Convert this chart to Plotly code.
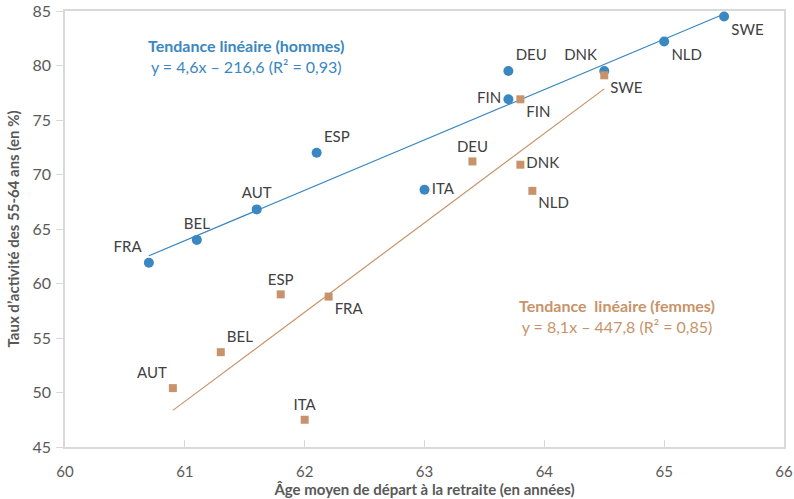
import numpy as np
import plotly.graph_objects as go

countries_men = ["FRA", "BEL", "AUT", "ESP", "ITA", "FIN", "DEU", "DNK", "NLD", "SWE"]
age_men = [60.7, 61.1, 61.6, 62.1, 63.0, 63.7, 63.7, 64.5, 65.0, 65.5]
rate_men = [61.9, 64.0, 66.8, 72.0, 68.6, 76.9, 79.5, 79.5, 82.2, 84.5]

countries_women = ["AUT", "BEL", "ESP", "ITA", "FRA", "DEU", "FIN", "DNK", "NLD", "SWE"]
age_women = [60.9, 61.3, 61.8, 62.0, 62.2, 63.4, 63.8, 63.8, 63.9, 64.5]
rate_women = [50.4, 53.7, 59.0, 47.5, 58.8, 71.2, 76.9, 70.9, 68.5, 79.1]

pos_men = ["top left", "top center", "top center", "top right", "middle right",
           "middle left", "top right", "top left", "bottom right", "bottom right"]
pos_women = ["top left", "top right", "top center", "top center", "bottom right",
             "top center", "bottom right", "middle right", "bottom right", "bottom right"]

BLUE = "#3A87C1"
TAN = "#C8936A"
FONT = "Lato"

def fit_line(x, y):
    a, b = np.polyfit(x, y, 1)
    xs = np.array([min(x), max(x)])
    return xs, a * xs + b

fig = go.Figure()
xm, ym = fit_line(age_men, rate_men)
xw, yw = fit_line(age_women, rate_women)
fig.add_trace(go.Scatter(x=xm, y=ym, mode="lines", line=dict(color=BLUE, width=1.2),
                         hoverinfo="skip", showlegend=False))
fig.add_trace(go.Scatter(x=xw, y=yw, mode="lines", line=dict(color=TAN, width=1.2),
                         hoverinfo="skip", showlegend=False))
fig.add_trace(go.Scatter(x=age_men, y=rate_men, mode="markers+text", text=countries_men,
                         textposition=pos_men,
                         textfont=dict(family=FONT, size=15, color="#404040"),
                         marker=dict(symbol="circle", size=10, color=BLUE),
                         showlegend=False, name="Hommes"))
fig.add_trace(go.Scatter(x=age_women, y=rate_women, mode="markers+text", text=countries_women,
                         textposition=pos_women,
                         textfont=dict(family=FONT, size=15, color="#404040"),
                         marker=dict(symbol="square", size=8, color=TAN),
                         showlegend=False, name="Femmes"))

fig.add_annotation(x=0.252, y=0.897, xref="paper", yref="paper", showarrow=False,
                   xanchor="center", yanchor="middle",
                   text="<b>Tendance linéaire (hommes)</b><br>y = 4,6x – 216,6 (R² = 0,93)",
                   font=dict(family=FONT, size=16, color=BLUE), align="center")
fig.add_annotation(x=0.768, y=0.30, xref="paper", yref="paper", showarrow=False,
                   xanchor="center", yanchor="middle",
                   text="<b>Tendance  linéaire (femmes)</b><br>y = 8,1x – 447,8 (R² = 0,85)",
                   font=dict(family=FONT, size=16, color=TAN), align="center")

fig.update_layout(
    width=794, height=499,
    margin=dict(l=65, r=10, t=11, b=52),
    paper_bgcolor="white", plot_bgcolor="white",
    font=dict(family=FONT, color="#595959"),
)
fig.update_xaxes(range=[60, 66], dtick=1, showgrid=False, zeroline=False, automargin=False,
                 showline=True, mirror=True, linecolor="#d9d9d9", linewidth=1.5,
                 ticks="inside", ticklen=7, tickcolor="#d9d9d9", ticklabelstandoff=10,
                 ticklabeloverflow="allow",
                 tickfont=dict(family=FONT, size=15, color="#595959"),
                 title=dict(text="<b>Âge moyen de départ à la retraite (en années)</b>",
                            font=dict(family=FONT, size=15, color="#595959"), standoff=5))
fig.update_yaxes(range=[45, 85], dtick=5, showgrid=False, zeroline=False, automargin=False,
                 showline=True, mirror=True, linecolor="#d9d9d9", linewidth=1.5,
                 ticks="outside", ticklen=7, tickcolor="#d9d9d9", ticklabelstandoff=2,
                 ticklabeloverflow="allow",
                 tickfont=dict(family=FONT, size=16, color="#595959"),
                 title=dict(text="<b>Taux d’activité des 55-64 ans (en %)</b>",
                            font=dict(family=FONT, size=15, color="#595959"), standoff=9))

# remove the browser's default 8px body margin so the figure sits at the page origin
fig.write_html("out.html", config={"displayModeBar": False},
               post_script="document.body.style.margin='0';")
